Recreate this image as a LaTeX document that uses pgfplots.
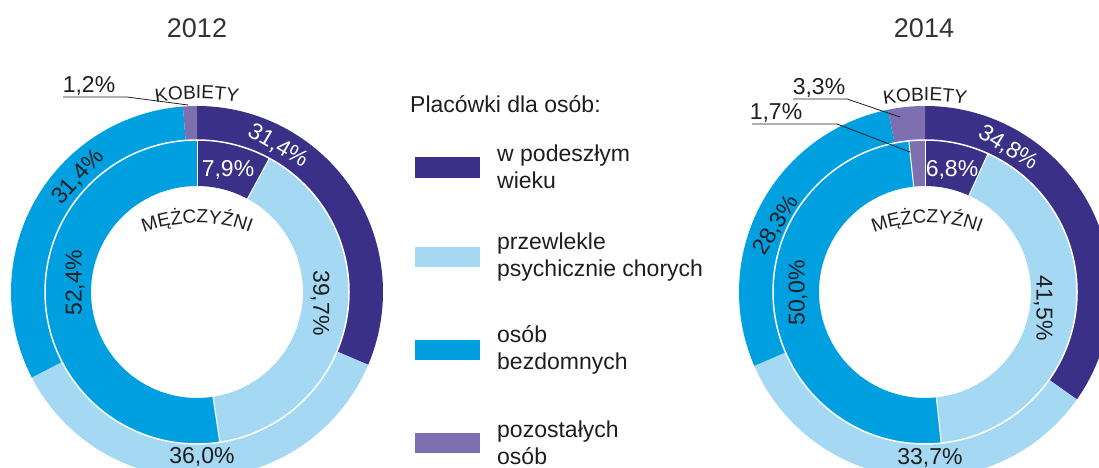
\documentclass[border=0pt]{standalone}
\usepackage{pgfplots}
\pgfplotsset{compat=1.18}
\usepackage{fontspec}
\setmainfont{Liberation Sans}
\usetikzlibrary{decorations.text}
\definecolor{cDark}{HTML}{3A3088}
\definecolor{cLight}{HTML}{A5D8F3}
\definecolor{cBlue}{HTML}{00A0E0}
\definecolor{cPurple}{HTML}{7E6FB0}
\definecolor{cText}{HTML}{1E1E1E}
\definecolor{cTitle}{HTML}{333333}

% annular sector: start%, end%, r_in, r_out, colour
\newcommand\sect[5]{%
  \pgfmathsetmacro\aA{90-3.6*#1}%
  \pgfmathsetmacro\aB{90-3.6*min(#2,100)}%
  \fill[#5] (\aA:#4bp) arc[start angle=\aA, end angle=\aB, radius=#4bp]
     -- (\aB:#3bp) arc[start angle=\aB, end angle=\aA, radius=#3bp] -- cycle;}
% ring: r_in, r_out, list value/colour, separator flag
\newcommand\ring[4]{%
  \xdef\cum{0}%
  \foreach \v/\c in {#3}{\pgfmathsetmacro\nxt{\cum+\v}\sect{\cum}{\nxt}{#1}{#2}{\c}\xdef\cum{\nxt}}%
  \ifnum#4=1
    \xdef\cum{0}%
    \foreach \v/\c in {#3}{\pgfmathsetmacro\aA{90-3.6*\cum}%
      \draw[white,line width=1bp] (\aA:#1bp) -- (\aA:#2bp);%
      \pgfmathsetmacro\nxt{\cum+\v}\xdef\cum{\nxt}}%
  \fi}

\tikzset{pl/.style={font=\fontsize{23bp}{27bp}\selectfont, text=cText, inner sep=0pt},
         lg/.style={font=\fontsize{23bp}{27bp}\selectfont, text=cText, inner sep=0pt, align=left, anchor=west}}

\begin{document}
\begin{tikzpicture}
\begin{axis}[width=1099bp, height=468bp, scale only axis,
  xmin=0, xmax=1099, ymin=0, ymax=468, hide axis, clip=false]
\pgfplotsextra{
\begin{scope}
\clip (axis cs:0,0) rectangle (axis cs:1099,468);
% ---------- 2012 ----------
\begin{scope}[shift={(axis cs:197,176)}]
  \ring{152}{186}{31.4/cDark,36.0/cLight,31.4/cBlue,1.2/cPurple}{0}
  \ring{106}{152}{7.9/cDark,39.7/cLight,52.4/cBlue}{1}
  \draw[white,line width=1.5bp] (0bp,0bp) circle[radius=152bp];
\end{scope}
% ---------- 2014 ----------
\begin{scope}[shift={(axis cs:925,176)}]
  \ring{152}{186}{34.8/cDark,33.7/cLight,28.3/cBlue,3.3/cPurple}{0}
  \ring{106}{152}{6.8/cDark,41.5/cLight,50.0/cBlue,1.7/cPurple}{1}
  \draw[white,line width=1.5bp] (0bp,0bp) circle[radius=152bp];
\end{scope}
\end{scope}
% titles
\node[font=\fontsize{27bp}{30bp}\selectfont, text=cTitle, anchor=base, inner sep=0pt] at (axis cs:197,430) {2012};
\node[font=\fontsize{27bp}{30bp}\selectfont, text=cTitle, anchor=base, inner sep=0pt] at (axis cs:924,430) {2014};
% labels 2012
\node[pl, text=white, rotate=-30] at (axis cs:278,322) {31,4\%};
\node[pl, text=white] at (axis cs:228,298) {7,9\%};
\node[pl, rotate=-90] at (axis cs:320,165) {39,7\%};
\node[pl, rotate=48] at (axis cs:78,291) {31,4\%};
\node[pl, rotate=90] at (axis cs:75,185) {52,4\%};
\node[pl] at (axis cs:202,11) {36,0\%};
\node[pl] at (axis cs:89,382) {1,2\%};
\draw[cText, line width=0.8bp] (axis cs:63,371) -- (axis cs:127,371) -- (axis cs:188,363);
% labels 2014
\node[pl, text=white, rotate=-32] at (axis cs:1008,320) {34,8\%};
\node[pl, text=white] at (axis cs:952,298) {6,8\%};
\node[pl, rotate=-90] at (axis cs:1043,160) {41,5\%};
\node[pl, rotate=58] at (axis cs:776,243) {28,3\%};
\node[pl, rotate=90] at (axis cs:798,175) {50,0\%};
\node[pl] at (axis cs:930,10) {33,7\%};
\node[pl] at (axis cs:819,380) {3,3\%};
\draw[cText, line width=0.8bp] (axis cs:793,369) -- (axis cs:847,369) -- (axis cs:900,351);
\node[pl] at (axis cs:776,355) {1,7\%};
\draw[cText, line width=0.8bp] (axis cs:752,344) -- (axis cs:837,344) -- (axis cs:910,316);
% curved labels
\path[decoration={text along path, text={|\fontsize{19bp}{19bp}\selectfont|KOBIETY}, text align=center, text color=cText}, decorate]
  ([shift={(axis cs:197,119)}]105:250bp) arc[start angle=105, end angle=75, radius=250bp];
\path[decoration={text along path, text={|\fontsize{19bp}{19bp}\selectfont|MĘŻCZYŹNI}, text align=center, text color=cText}, decorate]
  ([shift={(axis cs:197,95)}]120:150bp) arc[start angle=120, end angle=60, radius=150bp];
\path[decoration={text along path, text={|\fontsize{19bp}{19bp}\selectfont|KOBIETY}, text align=center, text color=cText}, decorate]
  ([shift={(axis cs:925,117)}]105:250bp) arc[start angle=105, end angle=75, radius=250bp];
\path[decoration={text along path, text={|\fontsize{19bp}{19bp}\selectfont|MĘŻCZYŹNI}, text align=center, text color=cText}, decorate]
  ([shift={(axis cs:927,95)}]120:150bp) arc[start angle=120, end angle=60, radius=150bp];
% legend
\node[font=\fontsize{23bp}{27bp}\selectfont, text=cText, anchor=base west, inner sep=0pt] at (axis cs:410,355) {Placówki dla osób:};
\fill[cDark]   (axis cs:415,290) rectangle (axis cs:480,311);
\fill[cLight]  (axis cs:415,201) rectangle (axis cs:480,221);
\fill[cBlue]   (axis cs:415,108) rectangle (axis cs:480,128);
\fill[cPurple] (axis cs:415,15)  rectangle (axis cs:480,35);
\node[lg] at (axis cs:497,301) {w podeszłym\\wieku};
\node[lg] at (axis cs:497,211) {przewlekle\\psychicznie chorych};
\node[lg] at (axis cs:497,118) {osób\\bezdomnych};
\node[lg] at (axis cs:497,25) {pozostałych\\osób};
}
\end{axis}
\pgfresetboundingbox
\useasboundingbox (current axis.south west) rectangle (current axis.north east);
\end{tikzpicture}
\end{document}
